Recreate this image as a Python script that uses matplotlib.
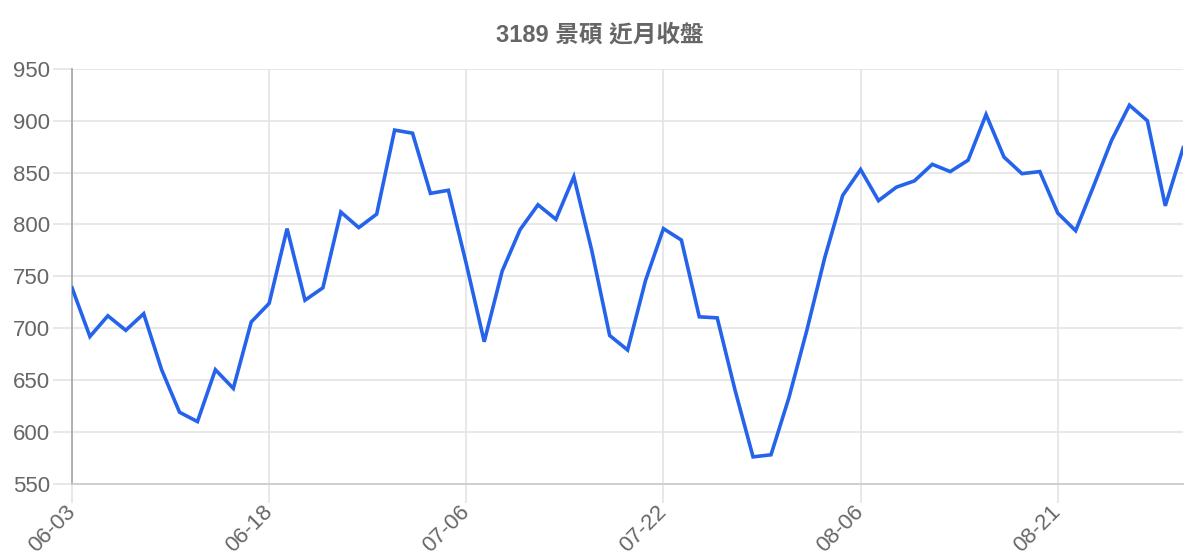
import matplotlib
matplotlib.use("Agg")
import matplotlib.pyplot as plt

# === данные: закрытия 3189 景碩 за месяц ===
closes = [
    739, 692, 712, 698, 714, 660, 619, 610, 660, 642,
    706, 724, 796, 727, 739, 812, 797, 810, 891, 888,
    830, 833, 762, 687, 755, 795, 819, 805, 846, 775,
    693, 679, 746, 796, 785, 711, 710, 640, 576, 578,
    633, 698, 768, 828, 853, 823, 836, 842, 858, 851,
    862, 906, 865, 849, 851, 811, 794, 837, 881, 915,
    900, 818, 874,
]
tick_pos = [0, 11, 22, 33, 44, 55]
tick_labels = ["06-03", "06-18", "07-06", "07-22", "08-06", "08-21"]
y_ticks = [550, 600, 650, 700, 750, 800, 850, 900, 950]
title = "3189 景碩 近月收盤"

plt.rcParams["font.family"] = ["Liberation Sans", "Noto Sans CJK TC", "DejaVu Sans"]

fig = plt.figure(figsize=(12, 5.6), dpi=100)
ax = fig.add_axes([0.06, 0.136, 0.926, 0.741])

ax.plot(range(len(closes)), closes, color="#2563eb", linewidth=2.6,
        solid_joinstyle="miter", zorder=3)

ax.set_xlim(0, len(closes) - 1)
ax.set_ylim(550, 950)
ax.set_yticks(y_ticks)
ax.set_xticks(tick_pos)
ax.set_xticklabels(tick_labels, rotation=45, ha="right", va="center",
                   rotation_mode="anchor")

ax.grid(True, color="#e2e2e2", linewidth=1.1)
ax.set_axisbelow(True)
ax.tick_params(axis="both", colors="#e2e2e2", length=14, width=1.1,
               labelcolor="#666666", labelsize=16, pad=2)
ax.tick_params(axis="x", labelsize=16, pad=4)

for s in ["top", "right"]:
    ax.spines[s].set_visible(False)
ax.spines["left"].set_color("#aaaaaa")
ax.spines["left"].set_linewidth(1.3)
ax.spines["bottom"].set_color("#cccccc")
ax.spines["bottom"].set_linewidth(1.3)

fig.text(0.5, 1 - 35 / 560, title, ha="center", va="center",
         fontsize=17, fontweight="bold", color="#666666")

fig.savefig("out.png", dpi=100)
